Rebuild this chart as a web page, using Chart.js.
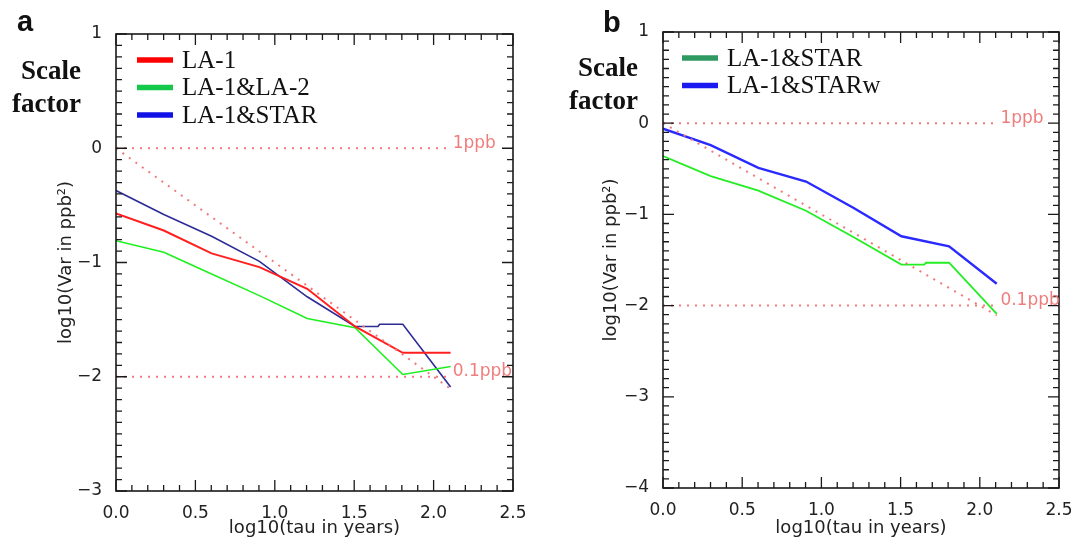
<!DOCTYPE html>
<html>
<head>
<meta charset="utf-8">
<script src="https://cdn.jsdelivr.net/npm/chart.js@4.4.0/dist/chart.umd.min.js"></script>
<style>
html, body { margin: 0; padding: 0; background: #fff; }
#wrap { position: relative; width: 1080px; height: 545px; overflow: hidden; }
.panel { position: absolute; top: 0; width: 540px; height: 545px; }
.letter { position: absolute; font: bold 29px "Liberation Sans", Arial, sans-serif; line-height: 29px; color: #111; }
.sf { position: absolute; font: bold 27px "Liberation Serif", "Times New Roman", serif; line-height: 33px; text-align: right; color: #111; }
</style>
</head>
<body>
<div id="wrap">
  <div class="panel" style="left:0"><canvas id="chartA"></canvas></div>
  <div class="panel" style="left:540px"><canvas id="chartB"></canvas></div>
  <div class="letter" style="left:17px;top:7px">a</div>
  <div class="letter" style="left:603px;top:8px">b</div>
  <div class="sf" style="left:0;top:54px;width:81px">Scale<br>factor</div>
  <div class="sf" style="left:537px;top:51px;width:101px">Scale<br>factor</div>
</div>
<script>
// log10(tau in years) sample points
let tau = [0, 0.301, 0.602, 0.903, 1.204, 1.505, 1.806, 2.107];
let tauStep = [0, 0.301, 0.602, 0.903, 1.204, 1.505, 1.65, 1.66, 1.806, 2.107];

// panel a
let la1 = [-0.57, -0.72, -0.92, -1.04, -1.23, -1.56, -1.79, -1.79];
let la1la2 = [-0.81, -0.91, -1.10, -1.29, -1.49, -1.57, -1.98, -1.91];
let la1starA = [-0.37, -0.58, -0.77, -0.99, -1.30, -1.56, -1.56, -1.54, -1.54, -2.09];

// panel b
let la1starB = [-0.36, -0.58, -0.74, -0.96, -1.25, -1.55, -1.55, -1.53, -1.53, -2.09];
let la1starw = [-0.06, -0.24, -0.49, -0.64, -0.93, -1.24, -1.35, -1.76];

// reference lines (1ppb, 0.1ppb, slope -1)
let refX = [0, 2.107];
let ref1ppb = [0, 0];
let ref01ppb = [-2, -2];
let refSlope = [0, -2.107];
let refLabels = ["1ppb", "0.1ppb"];
let refLabelValues = [0, -2];

function pts(xs, ys) {
    return xs.map((v, i) => ({x: v, y: ys[i]}));
}

function refSets() {
    let style = {borderColor: '#f07a7a', borderWidth: 2, borderDash: [2, 6], pointRadius: 0, showLine: true};
    return [
        Object.assign({data: pts(refX, ref1ppb)}, style),
        Object.assign({data: pts(refX, ref01ppb)}, style),
        Object.assign({data: pts(refX, refSlope)}, style)
    ];
}

const panelDeco = {
    id: 'panelDeco',
    afterDatasetsDraw(chart, args, opts) {
        const {ctx, chartArea: area, scales: {x, y}} = chart;
        ctx.save();
        ctx.strokeStyle = '#1a1a1a';
        ctx.lineWidth = 1.6;
        ctx.strokeRect(area.left, area.top, area.right - area.left, area.bottom - area.top);
        ctx.lineWidth = 1.3;
        ctx.beginPath();
        for (let i = Math.round(x.min * 10); i <= Math.round(x.max * 10); i++) {
            let px = x.getPixelForValue(i / 10);
            let len = i % 5 === 0 ? 11 : 6;
            ctx.moveTo(px, area.bottom); ctx.lineTo(px, area.bottom - len);
            ctx.moveTo(px, area.top); ctx.lineTo(px, area.top + len);
        }
        for (let i = Math.round(y.min * 10); i <= Math.round(y.max * 10); i++) {
            let py = y.getPixelForValue(i / 10);
            let len = i % 10 === 0 ? 11 : 6;
            ctx.moveTo(area.left, py); ctx.lineTo(area.left + len, py);
            ctx.moveTo(area.right, py); ctx.lineTo(area.right - len, py);
        }
        ctx.stroke();

        // 1ppb / 0.1ppb labels
        ctx.fillStyle = '#ef7d7d';
        ctx.font = '17px "DejaVu Sans"';
        ctx.textBaseline = 'middle';
        ctx.textAlign = 'left';
        for (let i = 0; i < refLabels.length; i++) {
            ctx.fillText(refLabels[i], x.getPixelForValue(opts.labelAt), y.getPixelForValue(refLabelValues[i]) - 5);
        }

        // legend
        let items = chart.data.datasets.filter(d => d.legendColor);
        ctx.font = '25px "Liberation Serif"';
        ctx.fillStyle = '#111';
        ctx.lineWidth = 5.5;
        for (let i = 0; i < items.length; i++) {
            let ly = opts.legendTop + i * 27.5;
            ctx.strokeStyle = items[i].legendColor;
            ctx.beginPath();
            ctx.moveTo(opts.legendLeft, ly);
            ctx.lineTo(opts.legendLeft + 36, ly);
            ctx.stroke();
            ctx.fillText(items[i].label, opts.legendLeft + 45, ly + 1);
        }
        ctx.restore();
    }
};

function makePanel(canvasId, datasets, yMin, yMax, box) {
    return new Chart(document.getElementById(canvasId).getContext('2d'), {
        type: 'scatter',
        data: {datasets: datasets},
        options: {
            responsive: true,
            maintainAspectRatio: false,
            animation: false,
            layout: {padding: {left: 0, top: box.top, right: box.right, bottom: 0}},
            plugins: {
                legend: {display: false},
                tooltip: {enabled: false},
                panelDeco: {labelAt: box.labelAt, legendLeft: box.legendLeft, legendTop: box.legendTop}
            },
            scales: {
                x: {
                    type: 'linear', min: 0, max: 2.5,
                    grid: {display: false},
                    border: {display: false},
                    ticks: {stepSize: 0.5, padding: 4, color: '#222', font: {family: 'DejaVu Sans', size: 17},
                        callback: v => v.toFixed(1)},
                    title: {display: true, text: 'log10(tau in years)', color: '#222',
                        font: {family: 'DejaVu Sans', size: 18}, padding: {top: 0, bottom: 6}},
                    afterFit: s => { s.height = box.xHeight; }
                },
                y: {
                    type: 'linear', min: yMin, max: yMax,
                    grid: {display: false},
                    border: {display: false},
                    ticks: {stepSize: 1, padding: 6, color: '#222', font: {family: 'DejaVu Sans', size: 17},
                        callback: v => v < 0 ? '\u2212' + Math.abs(v) : String(v)},
                    title: {display: true, text: 'log10(Var in ppb\u00b2)', color: '#222',
                        font: {family: 'DejaVu Sans', size: 18}, padding: {top: box.yTitlePad, bottom: 0}},
                    afterFit: s => { s.width = box.yWidth; }
                }
            }
        },
        plugins: [panelDeco]
    });
}

makePanel('chartA', refSets().concat([
    {label: 'LA-1', data: pts(tau, la1), borderColor: '#ff1f1f', legendColor: '#ff0000', borderWidth: 2, pointRadius: 0, showLine: true},
    {label: 'LA-1&LA-2', data: pts(tau, la1la2), borderColor: '#1ef01e', legendColor: '#14c84a', borderWidth: 1.6, pointRadius: 0, showLine: true},
    {label: 'LA-1&STAR', data: pts(tauStep, la1starA), borderColor: '#2c2c96', legendColor: '#1212e6', borderWidth: 1.6, pointRadius: 0, showLine: true}
]), -3, 1, {top: 34, right: 27, xHeight: 54, yWidth: 116, yTitlePad: 56, labelAt: 2.12, legendLeft: 137, legendTop: 60});

makePanel('chartB', refSets().concat([
    {label: 'LA-1&STAR', data: pts(tauStep, la1starB), borderColor: '#22ee22', legendColor: '#2e9a62', borderWidth: 1.8, pointRadius: 0, showLine: true},
    {label: 'LA-1&STARw', data: pts(tau, la1starw), borderColor: '#2a2aff', legendColor: '#1a1af0', borderWidth: 2.4, pointRadius: 0, showLine: true}
]), -4, 1, {top: 32, right: 21, xHeight: 57, yWidth: 123, yTitlePad: 61, labelAt: 2.13, legendLeft: 142, legendTop: 58});
</script>
</body>
</html>
